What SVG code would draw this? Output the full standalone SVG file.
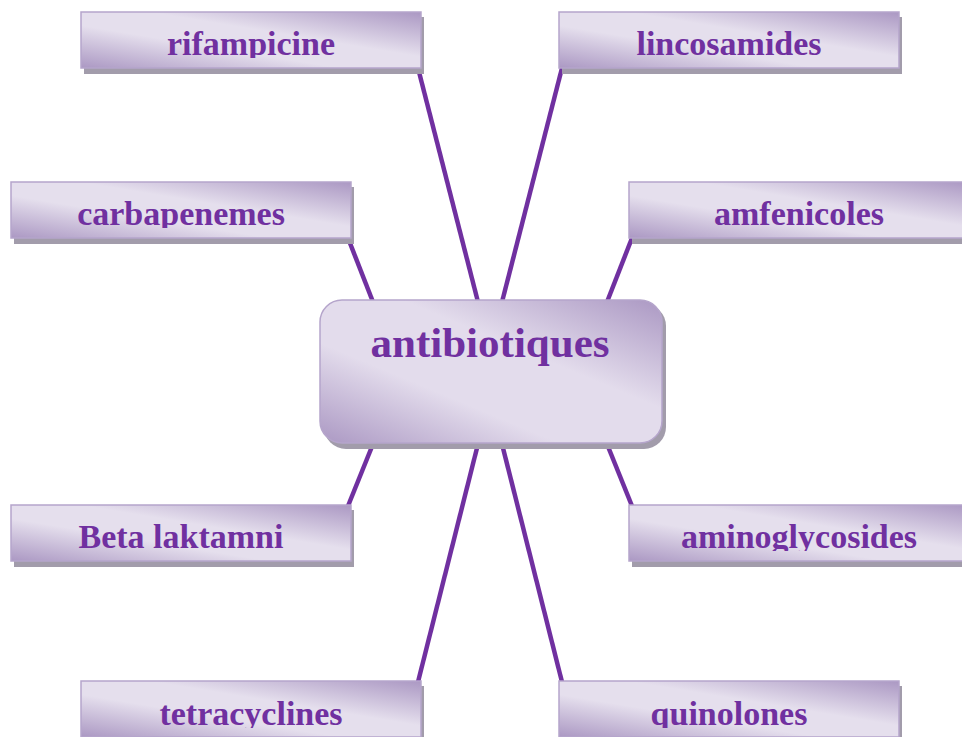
<svg xmlns="http://www.w3.org/2000/svg" width="962" height="737" viewBox="0 0 962 737">
<defs>
<linearGradient id="g" x1="1" y1="0" x2="0" y2="1">
<stop offset="0" stop-color="#ab98c3"/>
<stop offset="0.4" stop-color="#e5dfed"/>
<stop offset="0.62" stop-color="#e5dfed"/>
<stop offset="1" stop-color="#ab98c3"/>
</linearGradient>
<linearGradient id="gc" x1="1" y1="0" x2="0" y2="1">
<stop offset="0" stop-color="#ab98c3"/>
<stop offset="0.38" stop-color="#e3dcec"/>
<stop offset="0.65" stop-color="#e3dcec"/>
<stop offset="1" stop-color="#ab98c3"/>
</linearGradient>
<clipPath id="r1"><rect x="0" y="0" width="962" height="58"/></clipPath>
<clipPath id="r2"><rect x="0" y="170" width="962" height="58"/></clipPath>
<clipPath id="r3"><rect x="0" y="493" width="962" height="58"/></clipPath>
<clipPath id="r4"><rect x="0" y="670" width="962" height="58"/></clipPath>
</defs>
<style>
.sh{fill:#a29cab}
.bx{fill:url(#g);stroke:#b5a5cb;stroke-width:1.5}
.cbx{fill:url(#gc);stroke:#b5a5cb;stroke-width:1.5}
.t{font-family:"Liberation Serif","Times New Roman",serif;font-weight:bold;font-size:34px;fill:#7030a0;text-anchor:middle}
.ct{font-family:"Liberation Serif","Times New Roman",serif;font-weight:bold;font-size:43px;fill:#7030a0;text-anchor:middle}
.c{stroke:#7030a0;stroke-width:4.5;fill:none;stroke-linecap:butt}
</style>
<rect width="962" height="737" fill="#ffffff"/>
<g id="connectors">
<line class="c" x1="418" y1="68" x2="478" y2="302"/>
<line class="c" x1="562" y1="68" x2="502" y2="302"/>
<line class="c" x1="348" y1="238" x2="373" y2="302"/>
<line class="c" x1="632" y1="238" x2="607" y2="302"/>
<line class="c" x1="373" y1="444" x2="348" y2="506"/>
<line class="c" x1="607" y1="444" x2="632" y2="506"/>
<line class="c" x1="478" y1="444" x2="418" y2="682"/>
<line class="c" x1="502" y1="444" x2="562" y2="682"/>
</g>
<g id="center">
<rect class="sh" x="324" y="304" width="342" height="145" rx="22"/>
<rect class="cbx" x="320" y="300" width="342" height="143" rx="22"/>
<text class="ct" x="490" y="357">antibiotiques</text>
</g>
<g id="rifampicine">
<rect class="sh" x="84" y="17" width="340" height="57"/>
<rect class="bx" x="81" y="12" width="340" height="56"/>
<text class="t" x="251" y="55" clip-path="url(#r1)">rifampicine</text>
</g>
<g id="lincosamides">
<rect class="sh" x="562" y="17" width="340" height="57"/>
<rect class="bx" x="559" y="12" width="340" height="56"/>
<text class="t" x="729" y="55" clip-path="url(#r1)">lincosamides</text>
</g>
<g id="carbapenemes">
<rect class="sh" x="14" y="187" width="340" height="57"/>
<rect class="bx" x="11" y="182" width="340" height="56"/>
<text class="t" x="181" y="225" clip-path="url(#r2)">carbapenemes</text>
</g>
<g id="amfenicoles">
<rect class="sh" x="632" y="187" width="340" height="57"/>
<rect class="bx" x="629" y="182" width="340" height="56"/>
<text class="t" x="799" y="225" clip-path="url(#r2)">amfenicoles</text>
</g>
<g id="beta-laktamni">
<rect class="sh" x="14" y="510" width="340" height="57"/>
<rect class="bx" x="11" y="505" width="340" height="56"/>
<text class="t" x="181" y="548" clip-path="url(#r3)">Beta laktamni</text>
</g>
<g id="aminoglycosides">
<rect class="sh" x="632" y="510" width="340" height="57"/>
<rect class="bx" x="629" y="505" width="340" height="56"/>
<text class="t" x="799" y="548" clip-path="url(#r3)">aminoglycosides</text>
</g>
<g id="tetracyclines">
<rect class="sh" x="84" y="686" width="340" height="57"/>
<rect class="bx" x="81" y="681" width="340" height="56"/>
<text class="t" x="251" y="725" clip-path="url(#r4)">tetracyclines</text>
</g>
<g id="quinolones">
<rect class="sh" x="562" y="686" width="340" height="57"/>
<rect class="bx" x="559" y="681" width="340" height="56"/>
<text class="t" x="729" y="725" clip-path="url(#r4)">quinolones</text>
</g>
</svg>
